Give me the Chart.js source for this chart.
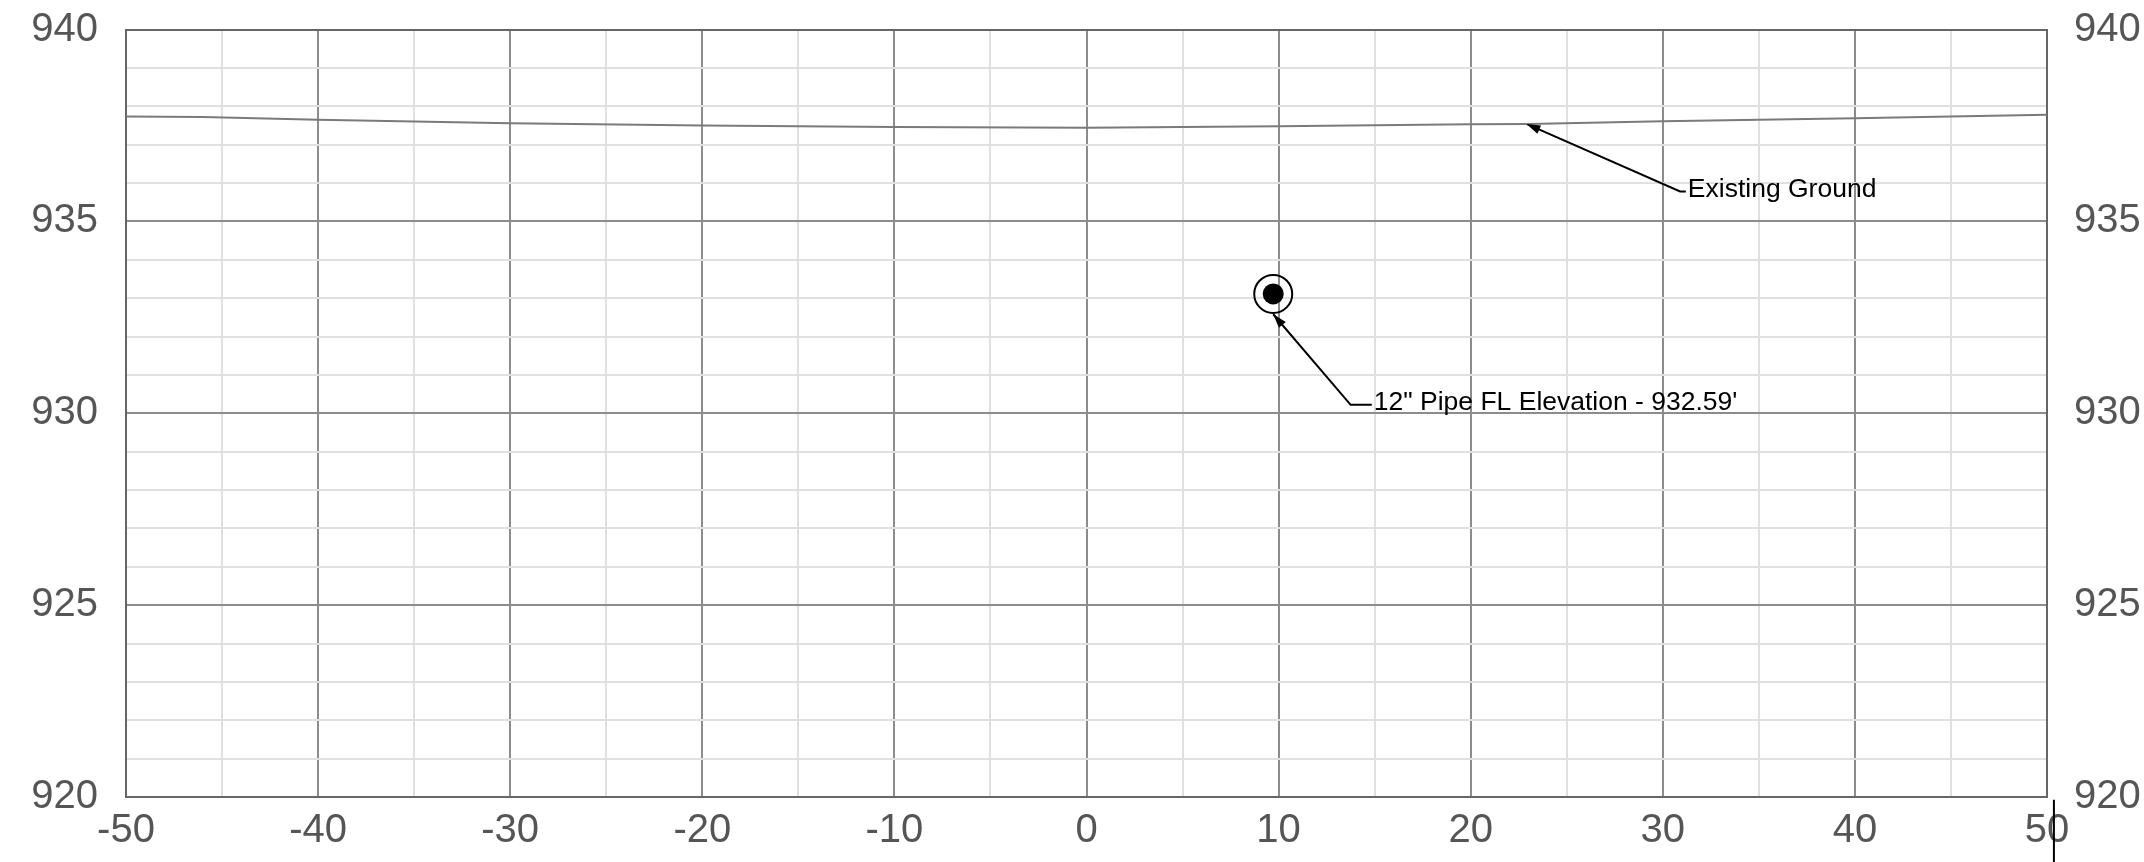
<!DOCTYPE html>
<html>
<head>
<meta charset="utf-8">
<script src="https://cdn.jsdelivr.net/npm/chart.js@4"></script>
<style>
  body { margin: 0; background: #fff; }
</style>
</head>
<body>
<canvas id="chart" width="2144" height="862"></canvas>
<script>
// offset (ft) and elevation of the existing ground
const groundOffsets = [-50, -46, -40, -30, -20, -10, 0, 10, 20, 23, 30, 40, 50];
const groundElev = [937.73, 937.72, 937.65, 937.56, 937.50, 937.46, 937.44, 937.48, 937.53, 937.54, 937.61, 937.69, 937.78];

// pipe centre (FL 932.59 + 0.5 ft)
const pipeOffset = [9.72];
const pipeElev = [933.11];

// callouts: leader points, first one is the arrow tip
const groundLeader = [{x: 22.9, y: 937.54}, {x: 30.9, y: 935.78}, {x: 31.2, y: 935.78}];
const pipeLeader = [{x: 9.72, y: 932.58}, {x: 13.75, y: 930.22}, {x: 14.85, y: 930.22}];
const calloutTexts = ['Existing Ground', '12" Pipe FL Elevation - 932.59\''];

// stray tick mark below the right corner
const strayMark = [{x: 50.36, y: 919.93}, {x: 50.36, y: 918.3}];

const xMin = -50, xMax = 50, yMin = 920, yMax = 940;

const labelFont = {family: 'Liberation Sans, Arial, sans-serif', size: 40};

let calloutPlugin = {
    id: 'callouts',
    afterDatasetsDraw(chart) {
        const ctx = chart.ctx;
        [2, 3].forEach((dsIndex, i) => {
            const pts = chart.getDatasetMeta(dsIndex).data;
            const tip = pts[0], next = pts[1], end = pts[pts.length - 1];
            // arrow head
            const ang = Math.atan2(tip.y - next.y, tip.x - next.x);
            const len = 14, w = 4.5;
            ctx.save();
            ctx.fillStyle = '#000';
            ctx.beginPath();
            ctx.moveTo(tip.x, tip.y);
            ctx.lineTo(tip.x - len * Math.cos(ang) + w * Math.sin(ang), tip.y - len * Math.sin(ang) - w * Math.cos(ang));
            ctx.lineTo(tip.x - len * Math.cos(ang) - w * Math.sin(ang), tip.y - len * Math.sin(ang) + w * Math.cos(ang));
            ctx.closePath();
            ctx.fill();
            // text
            ctx.font = '26.5px Liberation Sans, Arial, sans-serif';
            ctx.textAlign = 'left';
            ctx.textBaseline = 'middle';
            ctx.fillText(calloutTexts[i], end.x + 2, end.y - 2);
            ctx.restore();
        });
    }
};

// pipe symbol: ring with filled centre
let ringPlugin = {
    id: 'ring',
    afterDatasetsDraw(chart) {
        const ctx = chart.ctx;
        chart.getDatasetMeta(1).data.forEach(p => {
            ctx.save();
            ctx.strokeStyle = '#000';
            ctx.lineWidth = 2;
            ctx.beginPath();
            ctx.arc(p.x, p.y, 19, 0, Math.PI * 2);
            ctx.stroke();
            ctx.fillStyle = '#000';
            ctx.beginPath();
            ctx.arc(p.x, p.y, 10.5, 0, Math.PI * 2);
            ctx.fill();
            ctx.restore();
        });
    }
};

let data = {
    datasets: [
        {
            label: 'Existing Ground',
            data: groundOffsets.map((x, i) => ({x: x, y: groundElev[i]})),
            borderColor: '#7a7a7a',
            borderWidth: 2,
            pointRadius: 0,
            tension: 0,
        },
        {
            label: 'Pipe',
            data: pipeOffset.map((x, i) => ({x: x, y: pipeElev[i]})),
            showLine: false,
            pointRadius: 0,
        },
        {
            data: groundLeader,
            borderColor: '#000',
            borderWidth: 2,
            pointRadius: 0,
        },
        {
            data: pipeLeader,
            borderColor: '#000',
            borderWidth: 2,
            pointRadius: 0,
        },
        {
            data: strayMark,
            borderColor: '#000',
            borderWidth: 2,
            pointRadius: 0,
            clip: false,
        },
    ]
};

function fitY(width) {
    return scale => {
        scale.width = width;
        scale.paddingTop = 29.5;
        scale.paddingBottom = 0;
    };
}

let config = {
    type: 'line',
    data: data,
    options: {
        responsive: false,
        animation: false,
        layout: {padding: 0},
        plugins: {legend: {display: false}, tooltip: {enabled: false}},
        scales: {
            x: {
                type: 'linear',
                min: xMin,
                max: xMax,
                afterFit: scale => { scale.height = 65; },
                ticks: {
                    stepSize: 5,
                    autoSkip: false,
                    maxRotation: 0,
                    padding: 10,
                    color: '#555',
                    font: labelFont,
                    callback: v => v % 10 === 0 ? String(v) : '',
                },
                grid: {
                    drawTicks: false,
                    color: c => c.tick.value % 10 === 0 ? '#8c8c8c' : '#e0e0e0',
                    lineWidth: 2,
                },
                border: {color: '#666', width: 2},
            },
            y: {
                type: 'linear',
                position: 'left',
                min: yMin,
                max: yMax,
                afterFit: fitY(126),
                ticks: {
                    stepSize: 1,
                    autoSkip: false,
                    padding: 28,
                    color: '#555',
                    font: labelFont,
                    callback: v => v % 5 === 0 ? String(v) : '',
                },
                grid: {
                    drawTicks: false,
                    color: c => c.tick.value === yMax ? '#666' : (c.tick.value % 5 === 0 ? '#8c8c8c' : '#e0e0e0'),
                    lineWidth: 2,
                },
                border: {color: '#666', width: 2},
            },
            y2: {
                type: 'linear',
                position: 'right',
                min: yMin,
                max: yMax,
                afterFit: fitY(97),
                ticks: {
                    stepSize: 5,
                    padding: 27,
                    color: '#555',
                    font: labelFont,
                },
                grid: {display: false, drawTicks: false},
                border: {color: '#666', width: 2},
            },
        }
    },
    plugins: [calloutPlugin, ringPlugin]
};

new Chart(document.getElementById('chart'), config);
</script>
</body>
</html>
